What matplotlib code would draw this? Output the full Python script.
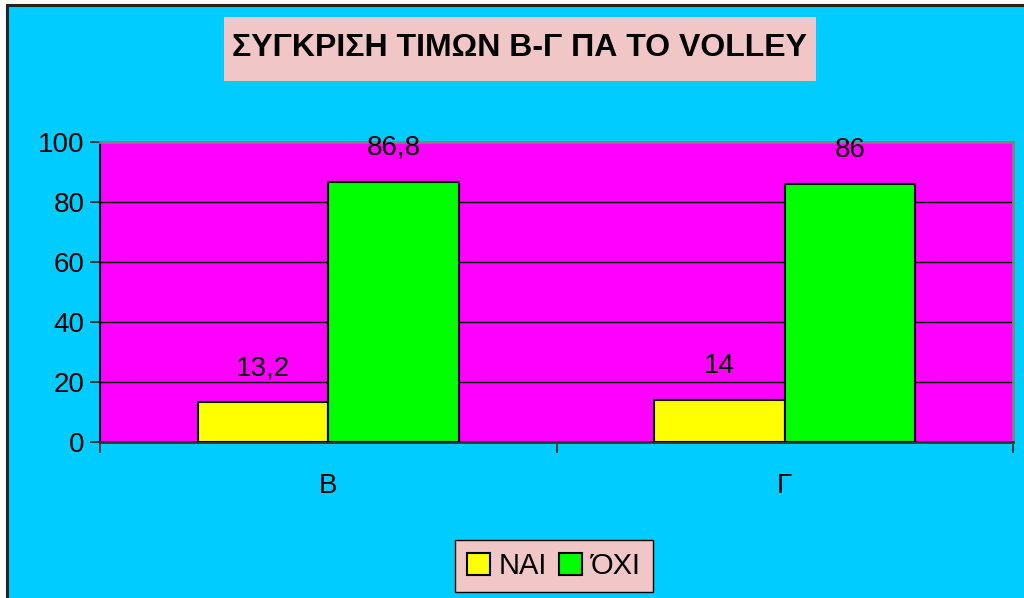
import matplotlib
matplotlib.use("Agg")
import matplotlib.pyplot as plt
import numpy as np
from matplotlib.patches import Rectangle, Patch

plt.rcParams["font.family"] = ["Liberation Sans", "DejaVu Sans"]

# chart data
categories = ["Β", "Γ"]
series_names = ["ΝΑΙ", "ΌΧΙ"]
yes_values = [13.2, 14]
no_values = [86.8, 86]
value_labels_yes = ["13,2", "14"]
value_labels_no = ["86,8", "86"]
y_ticks = [0, 20, 40, 60, 80, 100]

W, H = 1024, 598
fig = plt.figure(figsize=(W / 100, H / 100), dpi=100, facecolor="white")

def fx(px):
    return px / W

def fy(py):
    return 1 - py / H

# chart area background with dark frame on left/top
fig.patches.append(Rectangle((fx(7), fy(H + 10)), fx(W + 20), fy(5) - fy(H + 10),
                             transform=fig.transFigure, facecolor="#00CCFF",
                             edgecolor="#222222", linewidth=2.2, zorder=-2))

# title box
fig.patches.append(Rectangle((fx(224), fy(81)), fx(816 - 224), fy(17) - fy(81),
                             transform=fig.transFigure, facecolor="#F0C6C6",
                             edgecolor="none", zorder=1))
fig.text(fx(520), fy(48), "ΣΥΓΚΡΙΣΗ ΤΙΜΩΝ Β-Γ ΠΑ ΤΟ VOLLEY", ha="center", va="center",
         fontsize=23, fontweight="bold", color="black", zorder=2)

ax = fig.add_axes([fx(100), fy(442), fx(1013 - 100), fy(142) - fy(442)])
ax.set_facecolor("#FF00FF")

x = np.arange(len(categories))
w = 1 / 3.5
bars_yes = ax.bar(x - w / 2, yes_values, w, color="#FFFF00", edgecolor="black", linewidth=1.5, zorder=3)
bars_no = ax.bar(x + w / 2, no_values, w, color="#00FF00", edgecolor="black", linewidth=1.5, zorder=3)

for bars, labels in ((bars_yes, value_labels_yes), (bars_no, value_labels_no)):
    for b, lab in zip(bars, labels):
        ax.annotate(lab, (b.get_x() + b.get_width() / 2, b.get_height()),
                    xytext=(0, 15), textcoords="offset points",
                    ha="center", va="bottom", fontsize=20, color="black", zorder=4)

ax.set_xlim(-0.5, len(categories) - 0.5)
ax.set_ylim(0, 100)
ax.set_yticks(y_ticks)
ax.set_yticklabels([str(t) for t in y_ticks])
for t in y_ticks[1:-1]:
    ax.axhline(t, color="black", linewidth=1, zorder=1)

ax.set_xticks(x)
ax.set_xticklabels(categories)
ax.set_xticks(np.arange(-0.5, len(categories)), minor=True)
ax.tick_params(axis="x", which="major", length=0, pad=22, labelsize=20)
ax.tick_params(axis="x", which="minor", length=8, width=1.2, direction="out", color="#222222")
ax.tick_params(axis="y", length=7, width=1.2, direction="out", pad=4, labelsize=20, color="#222222")

ax.spines["left"].set_color("black")
ax.spines["left"].set_linewidth(1.3)
ax.spines["bottom"].set_color("#333333")
ax.spines["bottom"].set_linewidth(2)
ax.spines["top"].set_color("#808080")
ax.spines["top"].set_linewidth(2)
ax.spines["right"].set_color("#808080")
ax.spines["right"].set_linewidth(2)

# legend box
handles = [Patch(facecolor="#FFFF00", edgecolor="black", linewidth=1.5),
           Patch(facecolor="#00FF00", edgecolor="black", linewidth=1.5)]
leg = fig.legend(handles, series_names, loc="center", bbox_to_anchor=(fx(554), fy(566)),
                 ncol=2, fontsize=21, frameon=True, fancybox=False,
                 handlelength=0.8, handleheight=0.8, handletextpad=0.3,
                 columnspacing=0.4, borderpad=0.4)
leg.get_frame().set_facecolor("#F0C6C6")
leg.get_frame().set_edgecolor("black")
leg.get_frame().set_linewidth(1)
leg.get_frame().set_alpha(1)

fig.savefig("out.png", dpi=100, facecolor="white")
